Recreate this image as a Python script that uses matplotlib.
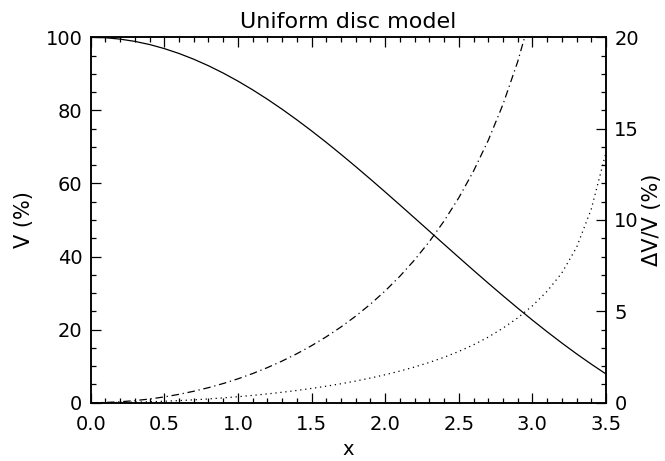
import numpy as np
import matplotlib
matplotlib.use('Agg')
import matplotlib.pyplot as plt
from matplotlib.ticker import MultipleLocator

# values, x step 0.1
x = [0.0, 0.1, 0.2, 0.3, 0.4, 0.5, 0.6, 0.7, 0.8, 0.9,
     1.0, 1.1, 1.2, 1.3, 1.4, 1.5, 1.6, 1.7, 1.8, 1.9,
     2.0, 2.1, 2.2, 2.3, 2.4, 2.5, 2.6, 2.7, 2.8, 2.9,
     3.0, 3.1, 3.2, 3.3, 3.4, 3.5]

# visibility V (%), left axis
vis = [100.0, 99.88, 99.50, 98.88, 98.02, 96.91, 95.57, 94.00, 92.21, 90.21,
       88.01, 85.62, 83.05, 80.31, 77.42, 74.39, 71.24, 67.97, 64.61, 61.17,
       57.67, 54.12, 50.54, 46.95, 43.35, 39.77, 36.22, 32.71, 29.27, 25.89,
       22.60, 19.41, 16.33, 13.37, 10.54, 7.85]

# relative error dV/V (%), right axis -- dash-dot curve (leaves the box near 2.95)
x_dd = x[:31]
err_dd = [0.0, 0.0125, 0.050, 0.113, 0.201, 0.316, 0.457, 0.626, 0.822, 1.049,
          1.306, 1.595, 1.919, 2.279, 2.678, 3.120, 3.607, 4.145, 4.738, 5.393,
          6.118, 6.922, 7.816, 8.817, 9.942, 11.217, 12.673, 14.355, 16.323, 18.663,
          21.505]

# dotted curve
err_dot = [0.0, 0.003, 0.0125, 0.028, 0.050, 0.079, 0.114, 0.156, 0.206, 0.262,
           0.326, 0.399, 0.480, 0.570, 0.670, 0.780, 0.902, 1.036, 1.185, 1.348,
           1.530, 1.730, 1.954, 2.204, 2.486, 2.804, 3.168, 3.589, 4.08, 4.64,
           5.30, 6.10, 7.10, 8.50, 10.6, 13.7]

plt.rcParams['font.family'] = ['DejaVu Sans']
plt.rcParams['font.size'] = 14

fig = plt.figure(figsize=(6.65, 4.61), dpi=100)
ax = fig.add_axes([0.1364, 0.1265, 0.7749, 0.7926])
ax2 = ax.twinx()

ax.plot(x, vis, color='black', lw=0.9)
ax2.plot(x_dd, err_dd, color='black', lw=0.9, linestyle=(0, (6, 3, 1, 3)))
ax2.plot(x, err_dot, color='black', lw=0.9, linestyle=(0, (1, 3)))

ax.set_xlim(0, 3.5)
ax.set_ylim(0, 100)
ax2.set_ylim(0, 20)

ax.xaxis.set_major_locator(MultipleLocator(0.5))
ax.xaxis.set_minor_locator(MultipleLocator(0.1))
ax.yaxis.set_major_locator(MultipleLocator(20))
ax.yaxis.set_minor_locator(MultipleLocator(5))
ax2.yaxis.set_major_locator(MultipleLocator(5))
ax2.yaxis.set_minor_locator(MultipleLocator(1))
ax.xaxis.set_major_formatter(lambda v, p: f'{v:.1f}')

ax.tick_params(axis='x', which='both', direction='in', top=True, pad=9)
ax.tick_params(axis='y', which='both', direction='in', right=False, pad=6)
ax2.tick_params(axis='y', which='both', direction='in', pad=6)
for a in (ax, ax2):
    a.tick_params(which='major', length=7, width=0.9)
    a.tick_params(which='minor', length=3.5, width=0.9)
    for s in a.spines.values():
        s.set_linewidth(1.1)

ax.set_xlabel('x', labelpad=4, fontsize=14)
ax.set_ylabel('V (%)', labelpad=8, fontsize=15)
ax2.set_ylabel('ΔV/V (%)', labelpad=2, fontsize=15)
ax.set_title('Uniform disc model', pad=7, fontsize=16)

fig.savefig('out.png', dpi=100)
